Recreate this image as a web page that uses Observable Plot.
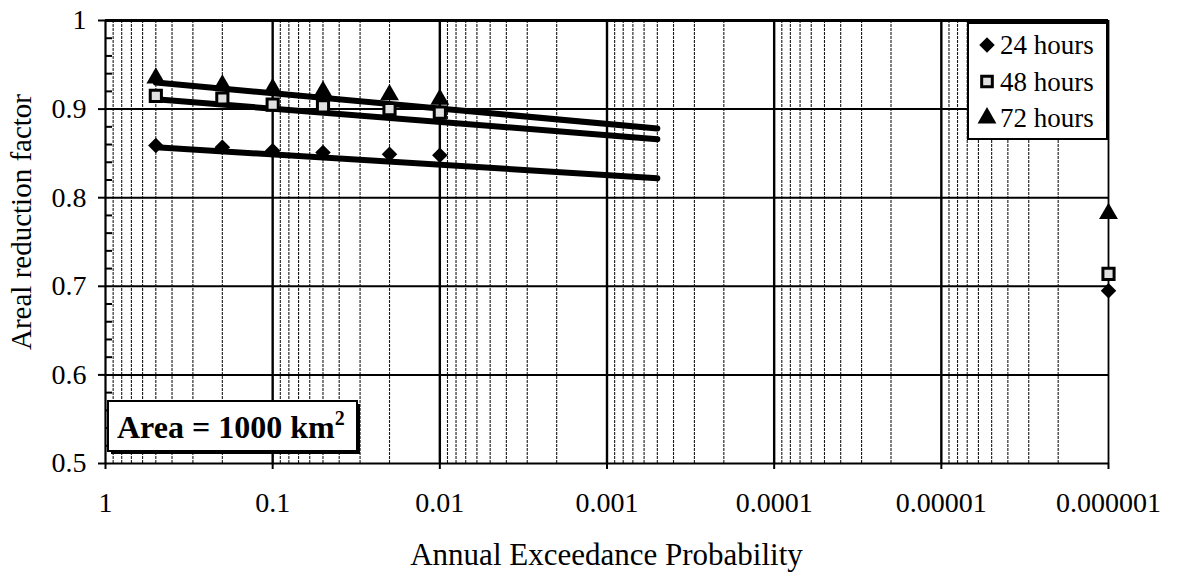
<!DOCTYPE html>
<html>
<head>
<meta charset="utf-8">
<script src="https://cdn.jsdelivr.net/npm/d3@7"></script>
<script src="https://cdn.jsdelivr.net/npm/@observablehq/plot@0.6"></script>
<style>
  html, body { margin: 0; padding: 0; background: white; }
</style>
</head>
<body>
<div id="chart"></div>
<script>
// ---- data ----
const aep = [0.5, 0.2, 0.1, 0.05, 0.02, 0.01, 0.000001];
const hours24 = [0.859, 0.857, 0.853, 0.851, 0.849, 0.848, 0.695];
const hours48 = [0.915, 0.912, 0.905, 0.903, 0.900, 0.896, 0.714];
const hours72 = [0.935, 0.927, 0.923, 0.920, 0.916, 0.911, 0.782];
const seriesNames = ["24 hours", "48 hours", "72 hours"];

const trendAep = [0.5, 0.0005];
const trend24 = [0.857, 0.822];
const trend48 = [0.911, 0.866];
const trend72 = [0.930, 0.878];

const xTicks = [1, 0.1, 0.01, 0.001, 0.0001, 0.00001, 0.000001];
const xTickLabels = ["1", "0.1", "0.01", "0.001", "0.0001", "0.00001", "0.000001"];
const yTicks = [0.5, 0.6, 0.7, 0.8, 0.9, 1];
const yTickLabels = ["0.5", "0.6", "0.7", "0.8", "0.9", "1"];
const yGrid = [0.6, 0.7, 0.8, 0.9];

const xTitle = "Annual Exceedance Probability";
const yTitle = "Areal reduction factor";
const areaNote = "Area = 1000 km";

// ---- derived tables ----
const pts = (vals, name) => aep.map((a, i) => ({aep: a, v: vals[i], s: name}));
const p24 = pts(hours24, seriesNames[0]);
const p48 = pts(hours48, seriesNames[1]);
const p72 = pts(hours72, seriesNames[2]);
const trends = [
  ...trendAep.map((a, i) => ({aep: a, v: trend24[i], s: seriesNames[0]})),
  ...trendAep.map((a, i) => ({aep: a, v: trend48[i], s: seriesNames[1]})),
  ...trendAep.map((a, i) => ({aep: a, v: trend72[i], s: seriesNames[2]}))
];

// gridline positions (layout)
const minorX = [];
for (let k = 1; k <= 6; k++) for (let m = 2; m <= 9; m++) minorX.push(m * Math.pow(10, -k));
const minorY = d3.range(26, 50).map(i => i / 50).filter(v => Math.round(v * 50) % 5 !== 0);

const W = 1177, H = 575, ML = 105, MR = 69, MT = 20, MB = 112;
const font = "'Liberation Serif', 'Times New Roman', serif";

const chart = Plot.plot({
  width: W, height: H,
  marginLeft: ML, marginRight: MR, marginTop: MT, marginBottom: MB,
  style: {fontFamily: font, fontSize: "28px", background: "white", color: "black", overflow: "visible"},
  x: {type: "log", domain: [1, 0.000001]},
  y: {domain: [0.5, 1]},
  marks: [
    Plot.ruleX(minorX, {stroke: "#1a1a1a", strokeWidth: 1.1, strokeDasharray: "3,1"}),
    Plot.ruleX(xTicks.slice(1, -1), {stroke: "black", strokeWidth: 2.4}),
    Plot.ruleX([xTicks[xTicks.length - 1]], {stroke: "black", strokeWidth: 1.8}),
    Plot.ruleX([xTicks[0]], {stroke: "black", strokeWidth: 2.2}),
    Plot.ruleY(yGrid, {stroke: "black", strokeWidth: 2}),
    Plot.ruleY([1], {stroke: "black", strokeWidth: 3}),
    Plot.ruleY([0.5], {stroke: "black", strokeWidth: 2.2}),
    Plot.tickY(minorY, {y: d => d, stroke: "black", strokeWidth: 2, insetRight: W - ML - MR - 7}),
    Plot.axisX(xTicks, {tickSize: 6, tickPadding: 23, tickFormat: d => xTickLabels[xTicks.indexOf(d)], label: null, strokeWidth: 2}),
    Plot.axisY(yTicks, {tickSize: 7, tickPadding: 12, tickFormat: d => yTickLabels[yTicks.indexOf(d)], label: null, strokeWidth: 2}),
    Plot.line(trends, {x: "aep", y: "v", z: "s", stroke: "black", strokeWidth: 6, strokeLinecap: "round"}),
    Plot.dot(p24, {x: "aep", y: "v", symbol: "diamond2", fill: "black", r: 7}),
    Plot.dot(p48, {x: "aep", y: "v", symbol: "square", fill: "#e0e0e0", stroke: "black", strokeWidth: 3, r: 6.3}),
    Plot.dot(p72, {x: "aep", y: "v", symbol: "triangle", fill: "black", r: 7})
  ]
});

document.getElementById("chart").appendChild(chart);

// ---- titles, legend, annotation ----
const svg = d3.select(chart);

svg.append("text")
  .attr("x", (ML + W - MR) / 2).attr("y", 565)
  .attr("text-anchor", "middle")
  .style("font-family", font).style("font-size", "31px").attr("fill", "black")
  .text(xTitle);

svg.append("text")
  .attr("transform", "translate(31,222) rotate(-90)")
  .attr("text-anchor", "middle")
  .style("font-family", font).style("font-size", "29px").attr("fill", "black")
  .text(yTitle);

// legend
const lg = svg.append("g");
lg.append("rect").attr("x", 968).attr("y", 23).attr("width", 139).attr("height", 116)
  .attr("fill", "white").attr("stroke", "black").attr("stroke-width", 2);
const legendSymbols = [
  {sym: d3.symbolDiamond2, fill: "black", stroke: "none", size: Math.PI * 7 * 7},
  {sym: d3.symbolSquare, fill: "#e0e0e0", stroke: "black", size: Math.PI * 36},
  {sym: d3.symbolTriangle, fill: "black", stroke: "none", size: Math.PI * 7 * 7}
];
seriesNames.forEach((name, i) => {
  const cy = 45 + i * 36.5;
  lg.append("path")
    .attr("transform", `translate(987,${cy})`)
    .attr("d", d3.symbol(legendSymbols[i].sym, legendSymbols[i].size)())
    .attr("fill", legendSymbols[i].fill)
    .attr("stroke", legendSymbols[i].stroke).attr("stroke-width", 3);
  lg.append("text")
    .attr("x", 1000).attr("y", cy + 9)
    .attr("text-anchor", "start")
    .style("font-family", font).style("font-size", "27px").attr("fill", "black")
    .text(name);
});

// area annotation box
const ab = svg.append("g");
ab.append("rect").attr("x", 111).attr("y", 404).attr("width", 249).attr("height", 50).attr("fill", "black");
ab.append("rect").attr("x", 108).attr("y", 401).attr("width", 249).attr("height", 50)
  .attr("fill", "white").attr("stroke", "black").attr("stroke-width", 2);
const t = ab.append("text")
  .attr("x", 117).attr("y", 438)
  .attr("text-anchor", "start")
  .style("font-family", font).style("font-size", "32px").style("font-weight", "bold").attr("fill", "black");
t.append("tspan").text(areaNote);
t.append("tspan").attr("dy", -13).style("font-size", "20px").text("2");
</script>
</body>
</html>
